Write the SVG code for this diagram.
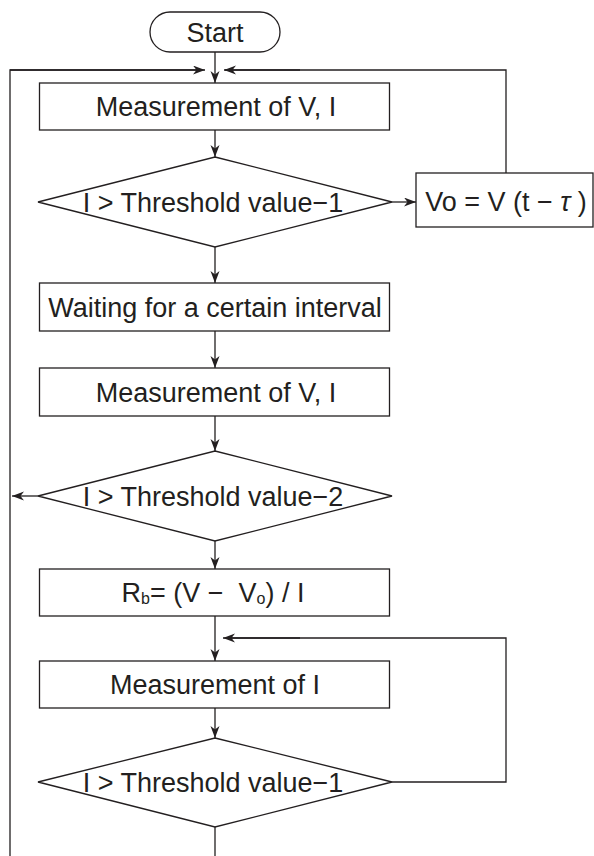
<svg xmlns="http://www.w3.org/2000/svg" width="594" height="856" viewBox="0 0 594 856">
<defs>
<marker id="ah" markerUnits="userSpaceOnUse" markerWidth="13" markerHeight="10" refX="12" refY="4.5" orient="auto">
<path d="M0,0 L12,4.5 L0,9 L3.5,4.5 z" fill="#231f20"/>
</marker>
<style>
.s{fill:#fff;stroke:#231f20;stroke-width:1.3}
.t{font-family:"Liberation Sans",Arial,sans-serif;font-size:27px;fill:#231f20;text-anchor:middle}
.c{fill:none;stroke:#231f20;stroke-width:1.3}
.a{marker-end:url(#ah)}
</style>
</defs>
<rect width="594" height="856" fill="#fff"/>
<g id="connectors">
<line class="c a" x1="215" y1="52" x2="215" y2="83"/>
<polyline class="c" points="10,856 10,70 200,70"/>
<line class="c a" x1="10" y1="70" x2="205" y2="70"/>
<polyline class="c" points="506,173 506,70 225,70"/>
<line class="c a" x1="300" y1="70" x2="224" y2="70"/>
<line class="c a" x1="215" y1="130" x2="215" y2="157"/>
<line class="c a" x1="392" y1="202" x2="416" y2="202"/>
<line class="c a" x1="215" y1="247" x2="215" y2="283"/>
<line class="c a" x1="215" y1="331" x2="215" y2="368"/>
<line class="c a" x1="215" y1="416" x2="215" y2="451"/>
<line class="c a" x1="38" y1="496" x2="12" y2="496"/>
<line class="c a" x1="215" y1="541" x2="215" y2="569"/>
<line class="c a" x1="215" y1="616" x2="215" y2="661"/>
<polyline class="c" points="392,782 506,782 506,638 230,638"/>
<line class="c a" x1="300" y1="638" x2="223" y2="638"/>
<line class="c a" x1="215" y1="708" x2="215" y2="738"/>
<line class="c" x1="215" y1="827" x2="215" y2="856"/>
</g>
<g id="start">
<rect class="s" x="150" y="12" width="130" height="40" rx="20"/>
<text class="t" x="215" y="42">Start</text>
</g>
<g id="measure1">
<rect class="s" x="39.5" y="83" width="350" height="47"/>
<text class="t" x="216" y="116">Measurement of V, I</text>
</g>
<g id="decision1">
<polygon class="s" points="215,157 392,202 215,247 38,202"/>
<text class="t" x="213" y="212">I &gt; Threshold value−1</text>
</g>
<g id="vo">
<rect class="s" x="416" y="173" width="177" height="54"/>
<text class="t" x="506" y="211">Vo = V (t − <tspan font-style="italic">τ</tspan> )</text>
</g>
<g id="wait">
<rect class="s" x="39.5" y="283" width="350" height="48"/>
<text class="t" x="215" y="317">Waiting for a certain interval</text>
</g>
<g id="measure2">
<rect class="s" x="39.5" y="368" width="350" height="48"/>
<text class="t" x="216" y="402">Measurement of V, I</text>
</g>
<g id="decision2">
<polygon class="s" points="215,451 392,496 215,541 38,496"/>
<text class="t" x="213" y="506">I &gt; Threshold value−2</text>
</g>
<g id="rb">
<rect class="s" x="39.5" y="569" width="350" height="47"/>
<text class="t" x="213" y="602">R<tspan font-size="16" dy="2">b</tspan><tspan dy="-2">= (V − &#160;V</tspan><tspan font-size="16" dy="2">o</tspan><tspan dy="-2">) / I</tspan></text>
</g>
<g id="measure3">
<rect class="s" x="39.5" y="661" width="350" height="47"/>
<text class="t" x="215" y="694">Measurement of I</text>
</g>
<g id="decision3">
<polygon class="s" points="215,738 392,782 215,827 38,782"/>
<text class="t" x="213" y="792">I &gt; Threshold value−1</text>
</g>
</svg>
